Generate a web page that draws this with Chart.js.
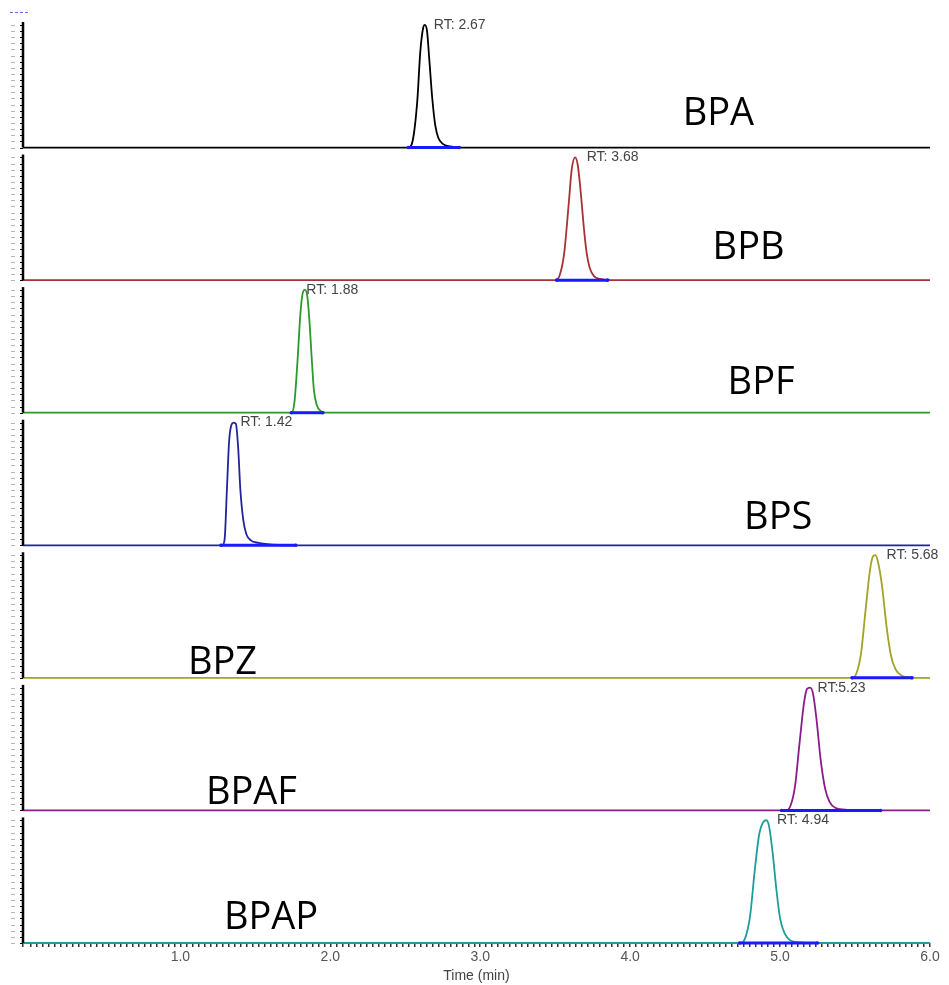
<!DOCTYPE html>
<html>
<head>
<meta charset="utf-8">
<title>Chromatograms</title>
<script src="https://cdn.jsdelivr.net/npm/chart.js@4.4.1/dist/chart.umd.min.js"></script>
<style>
  html, body { margin: 0; padding: 0; background: #fff; }
  #wrap { position: relative; width: 949px; height: 985px; }
</style>
</head>
<body>
<div id="wrap"><canvas id="chromChart"></canvas></div>
<script>
// ===========================
// DATA
// ===========================

const compounds = ["BPA", "BPB", "BPF", "BPS", "BPZ", "BPAF", "BPAP"];
const rtLabels = ["RT: 2.67", "RT: 3.68", "RT: 1.88", "RT: 1.42", "RT: 5.68", "RT:5.23", "RT: 4.94"];
const traceColors = ["#000000", "#a83232", "#2a9a2a", "#23239a", "#a3a325", "#8b1a8b", "#1f9c9c"];

const timeMin = -0.05;
const timeMax = 6.0;

// relative signal (%) around each peak
const bpaTime   = [2.52, 2.55, 2.58, 2.60, 2.62, 2.63, 2.645, 2.66, 2.68, 2.70, 2.72, 2.75, 2.80, 2.88];
const bpaSignal = [0, 6, 38, 78, 98, 100, 95, 72, 40, 18, 8, 3, 1, 0];

const bpbTime   = [3.50, 3.53, 3.56, 3.59, 3.61, 3.633, 3.65, 3.67, 3.69, 3.71, 3.73, 3.76, 3.80, 3.88];
const bpbSignal = [0, 4, 22, 62, 90, 100, 94, 72, 44, 22, 10, 3, 1, 0];

const bpfTime   = [1.74, 1.76, 1.78, 1.80, 1.815, 1.83, 1.845, 1.86, 1.875, 1.89, 1.91, 1.94, 1.97];
const bpfSignal = [0, 8, 40, 80, 97, 100, 96, 76, 46, 19, 6, 1, 0];

const bpsTime   = [1.28, 1.295, 1.31, 1.325, 1.34, 1.355, 1.37, 1.385, 1.40, 1.42, 1.44, 1.47, 1.52, 1.58, 1.65, 1.70];
const bpsSignal = [0, 5, 45, 85, 98, 100, 99, 80, 45, 20, 9, 4, 2, 1, 0.3, 0];

const bpzTime   = [5.48, 5.51, 5.54, 5.57, 5.60, 5.62, 5.635, 5.65, 5.68, 5.71, 5.74, 5.77, 5.81, 5.86, 5.90];
const bpzSignal = [0, 4, 20, 55, 88, 99, 100, 96, 75, 42, 18, 7, 2, 0.5, 0];

const bpafTime   = [5.04, 5.07, 5.10, 5.13, 5.16, 5.18, 5.20, 5.22, 5.245, 5.27, 5.30, 5.33, 5.37, 5.45, 5.60];
const bpafSignal = [0, 4, 20, 55, 88, 99, 100, 95, 72, 42, 18, 7, 2, 0.5, 0];

const bpapTime   = [4.74, 4.77, 4.80, 4.83, 4.86, 4.89, 4.907, 4.925, 4.95, 4.975, 5.00, 5.03, 5.07, 5.15, 5.25];
const bpapSignal = [0, 5, 22, 58, 88, 99, 100, 96, 74, 44, 20, 8, 2, 0.3, 0];

// integration baseline (blue) start / end, min
const integrationStart = [2.52, 3.51, 1.74, 1.27, 5.48, 5.01, 4.73];
const integrationEnd   = [2.86, 3.85, 1.95, 1.77, 5.88, 5.67, 5.25];

const peakTimes   = [bpaTime, bpbTime, bpfTime, bpsTime, bpzTime, bpafTime, bpapTime];
const peakSignals = [bpaSignal, bpbSignal, bpfSignal, bpsSignal, bpzSignal, bpafSignal, bpapSignal];

// ===========================
// LABEL PLACEMENT (time / signal units)
// ===========================

const rtLabelTime = [2.69, 3.71, 1.84, 1.40, 5.71, 5.25, 4.98];
const nameTime    = [4.35, 4.55, 4.65, 4.76, 1.05, 1.17, 1.29];
const nameSignal  = [18, 17, 15, 13, 3.5, 5, 11.5];

// ===========================
// BUILD DATASETS
// ===========================

const datasets = [];

compounds.forEach((name, i) => {

    const pts = [{x: timeMin, y: 0}];
    peakTimes[i].forEach((t, k) => {
        pts.push({x: t, y: peakSignals[i][k]});
    });
    pts.push({x: timeMax, y: 0});

    datasets.push({
        label: name,
        data: pts,
        yAxisID: "y" + i,
        borderColor: traceColors[i],
        borderWidth: 1.8,
        pointRadius: 0,
        cubicInterpolationMode: "monotone",
        fill: false,
        clip: false,
        order: 1
    });

    datasets.push({
        label: name + " baseline",
        data: [
            {x: integrationStart[i], y: 0},
            {x: integrationEnd[i], y: 0}
        ],
        yAxisID: "y" + i,
        borderColor: "#1a1aff",
        backgroundColor: "#1a1aff",
        borderWidth: 3,
        pointRadius: 1.8,
        pointBorderWidth: 0,
        clip: false,
        order: 0
    });
});

// ===========================
// SCALES
// ===========================

const scales = {
    x: {
        type: "linear",
        min: timeMin,
        max: timeMax,
        border: { display: false },
        grid: {
            drawOnChartArea: false,
            drawTicks: true,
            tickLength: 4,
            tickColor: "#333",
            lineWidth: 1.5
        },
        ticks: {
            stepSize: 0.04,
            autoSkip: false,
            maxRotation: 0,
            padding: 2,
            color: "#555",
            font: { family: "'Liberation Sans', Arial, sans-serif", size: 14 },
            callback: (v) => {
                if (v >= 0.99 && Math.abs(v - Math.round(v)) < 1e-6) {
                    return Number(v).toFixed(1);
                }
                return "";
            }
        },
        title: {
            display: true,
            text: "Time (min)",
            color: "#444",
            font: { family: "'Liberation Sans', Arial, sans-serif", size: 14 },
            padding: { top: 1, bottom: 0 }
        },
        afterFit: (s) => { s.height = 42; }
    }
};

compounds.forEach((name, i) => {
    scales["y" + i] = {
        type: "linear",
        position: "left",
        stack: "chrom",
        stackWeight: 1,
        weight: compounds.length - i,
        min: 0,
        max: 108,
        border: { display: false },
        grid: { display: false },
        ticks: { display: false, stepSize: 5 },
        afterFit: (s) => { s.width = 23; }
    };
});

// ===========================
// DECORATION PLUGIN
// ===========================

const panelDecor = {
    id: "panelDecor",
    afterDatasetsDraw(chart) {

        const ctx = chart.ctx;
        const xs = chart.scales.x;

        ctx.save();

        // small legend mark at top left
        ctx.strokeStyle = "#6a6ae8";
        ctx.lineWidth = 1;
        ctx.setLineDash([3, 2]);
        ctx.beginPath();
        ctx.moveTo(10, 12.5);
        ctx.lineTo(29, 12.5);
        ctx.stroke();
        ctx.setLineDash([]);

        compounds.forEach((name, i) => {

            const ys = chart.scales["y" + i];
            const axisX = xs.left;
            const axisTop = ys.top + 7;

            // thick y axis line
            ctx.strokeStyle = "#000";
            ctx.lineWidth = 2.5;
            ctx.beginPath();
            ctx.moveTo(axisX, axisTop);
            ctx.lineTo(axisX, ys.bottom);
            ctx.stroke();

            // tick marks + faint tick label marks
            ys.ticks.forEach(t => {
                const py = Math.round(ys.getPixelForValue(t.value)) + 0.5;
                if (py < axisTop) return;
                ctx.strokeStyle = "#000";
                ctx.lineWidth = 1;
                ctx.beginPath();
                ctx.moveTo(axisX - 3, py);
                ctx.lineTo(axisX, py);
                ctx.stroke();
                ctx.strokeStyle = "#b5b5b5";
                ctx.beginPath();
                ctx.moveTo(11, py);
                ctx.lineTo(15, py);
                ctx.stroke();
            });

            // RT label
            ctx.fillStyle = "#444";
            ctx.font = "14px 'Liberation Sans', Arial, sans-serif";
            ctx.textBaseline = "middle";
            ctx.textAlign = "left";
            ctx.fillText(
                rtLabels[i],
                xs.getPixelForValue(rtLabelTime[i]),
                ys.getPixelForValue(100)
            );

            // compound name
            ctx.fillStyle = "#000";
            ctx.font = "38px 'Open Sans', sans-serif";
            ctx.textBaseline = "alphabetic";
            ctx.fillText(
                name,
                xs.getPixelForValue(nameTime[i]),
                ys.getPixelForValue(nameSignal[i])
            );
        });

        ctx.restore();
    }
};

// ===========================
// CHART
// ===========================

const chromChart = new Chart(
    document.getElementById("chromChart").getContext("2d"),
    {
        type: "line",
        data: { datasets: datasets },
        options: {
            responsive: true,
            maintainAspectRatio: false,
            animation: false,
            layout: { padding: { top: 15, right: 19, bottom: 0, left: 0 } },
            plugins: {
                legend: { display: false },
                tooltip: { enabled: false }
            },
            scales: scales
        },
        plugins: [panelDecor]
    }
);
</script>
</body>
</html>
